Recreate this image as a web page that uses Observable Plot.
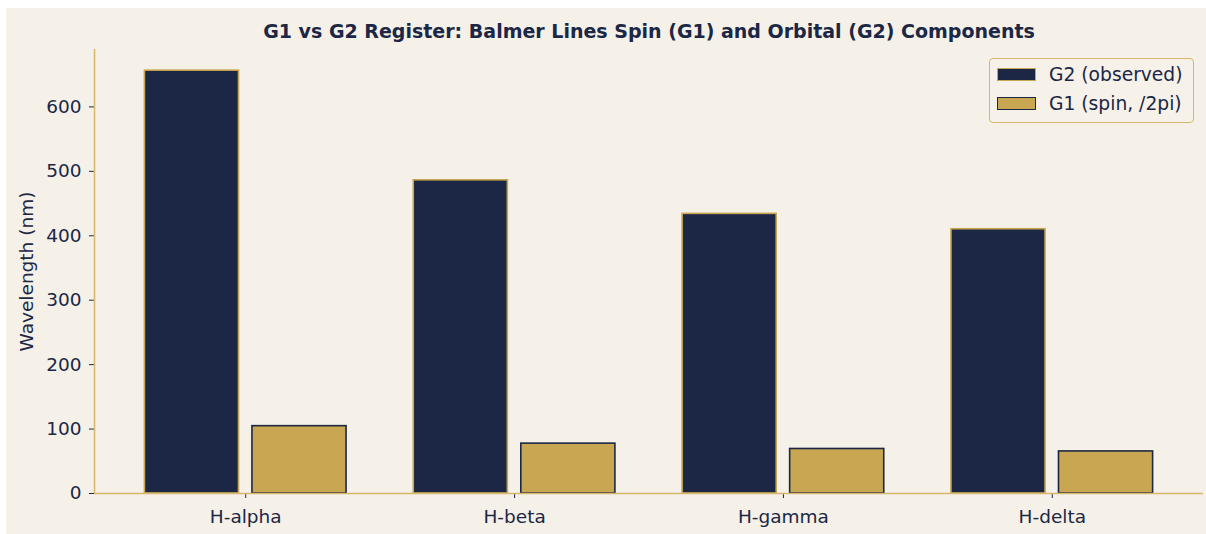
<!DOCTYPE html>
<html>
<head>
<meta charset="utf-8">
<script src="https://cdn.jsdelivr.net/npm/d3@7"></script>
<script src="https://cdn.jsdelivr.net/npm/@observablehq/plot@0.6"></script>
<style>
  html, body { margin: 0; padding: 0; background: #ffffff; }
  #wrap { position: absolute; left: 6px; top: 8px; width: 1200px; height: 526px; background: #f5f0e8; font-family: "DejaVu Sans", sans-serif; color: #1b2744; }
  #title { height: 30px; font-weight: bold; font-size: 19px; position: relative; }
  #title span { position: absolute; left: 643px; transform: translateX(-50%); top: 13px; line-height: 20px; white-space: nowrap; }
  #legend { position: absolute; left: 983px; top: 50px; width: 203px; height: 63px; border: 1.5px solid #d6b86c; border-radius: 4px; background: #f6f1e9; font-size: 18.7px; }
  .row { position: absolute; left: 7px; display: flex; align-items: center; }
  .sw { width: 39px; height: 13px; margin-right: 13px; box-sizing: border-box; border-width: 1.5px; border-style: solid; }
  svg { display: block; }
</style>
</head>
<body>
<div id="wrap">
  <div id="title"><span>G1 vs G2 Register: Balmer Lines Spin (G1) and Orbital (G2) Components</span></div>
  <div id="chart"></div>
  <div id="legend"></div>
</div>
<script>
const categories = ["H-alpha", "H-beta", "H-gamma", "H-delta"];
const g2Observed = [656.3, 486.1, 434.0, 410.2];
const g1Spin = [104.5, 77.4, 69.1, 65.3];
const yTicks = [0, 100, 200, 300, 400, 500, 600];
const yLabel = "Wavelength (nm)";

const seriesNames = ["G2 (observed)", "G1 (spin, /2pi)"];
const navy = "#1b2744";
const gold = "#c8a652";
const spine = "#d6b86c";
const bg = "#f5f0e8";

const barWidth = 0.35;
const offset = 0.2;

const rows = [];
categories.forEach((c, i) => {
  rows.push({cat: c, i, series: seriesNames[0], value: g2Observed[i], x1: i - offset - barWidth / 2, x2: i - offset + barWidth / 2});
  rows.push({cat: c, i, series: seriesNames[1], value: g1Spin[i], x1: i + offset - barWidth / 2, x2: i + offset + barWidth / 2});
});

const lo = -offset - barWidth / 2;
const hi = categories.length - 1 + offset + barWidth / 2;
const pad = (hi - lo) * 0.05;
const yMax = d3.max(g2Observed) * 1.05;

const chart = Plot.plot({
  width: 1200,
  height: 496,
  marginLeft: 88,
  marginRight: 3,
  marginTop: 11,
  marginBottom: 41,
  style: {background: bg, color: navy, fontFamily: "DejaVu Sans, sans-serif", fontSize: "18px"},
  x: {domain: [lo - pad, hi + pad]},
  y: {domain: [0, yMax]},
  marks: [
    Plot.rectY(rows, {
      x1: "x1", x2: "x2", y1: 0, y2: "value",
      fill: d => d.series === seriesNames[0] ? navy : gold,
      stroke: d => d.series === seriesNames[0] ? gold : navy,
      strokeWidth: 1.6
    }),
    Plot.axisX({ticks: categories.map((c, i) => i), tickFormat: i => categories[i], tickSize: 5, tickPadding: 11, stroke: navy, fill: navy, label: null, fontSize: 18.5}),
    Plot.axisY({ticks: yTicks, tickSize: 5, tickPadding: 8, stroke: navy, fill: navy, label: null, fontSize: 18.5}),
    Plot.text([yLabel], {text: d => d, frameAnchor: "left", textAnchor: "middle", rotate: -90, dx: -67, fill: navy, fontSize: 18.5}),
    Plot.ruleY([0], {stroke: spine, strokeWidth: 1.6}),
    Plot.ruleX([lo - pad], {stroke: spine, strokeWidth: 1.6})
  ]
});
document.getElementById("chart").appendChild(chart);

const legend = document.getElementById("legend");
[[seriesNames[0], navy, gold], [seriesNames[1], gold, navy]].forEach(([name, f, s], k) => {
  const r = document.createElement("div");
  r.className = "row";
  r.style.top = (k === 0 ? 5 : 34) + "px";
  r.innerHTML = `<div class="sw" style="background:${f};border-color:${s}"></div><span>${name}</span>`;
  legend.appendChild(r);
});
</script>
</body>
</html>
